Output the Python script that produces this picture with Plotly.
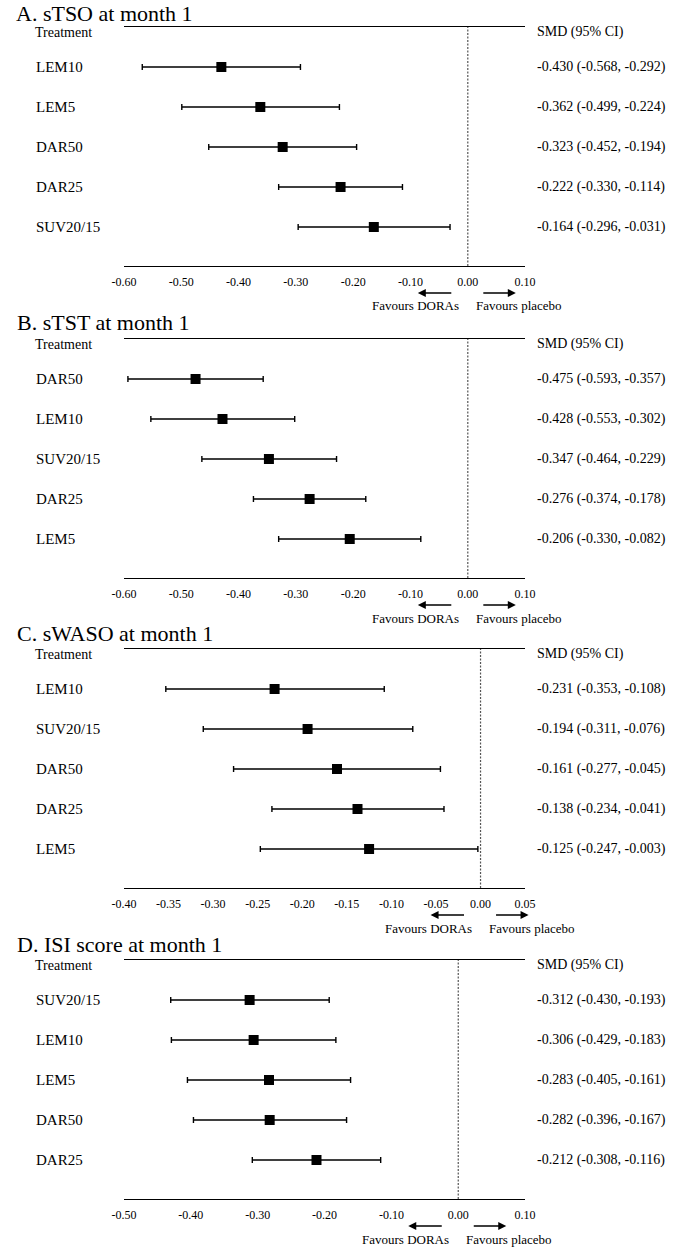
import plotly.graph_objects as go

# Panel titles
titles = ["A. sTSO at month 1", "B. sTST at month 1",
          "C. sWASO at month 1", "D. ISI score at month 1"]

# Treatments per panel (top to bottom)
treat_a = ["LEM10", "LEM5", "DAR50", "DAR25", "SUV20/15"]
treat_b = ["DAR50", "LEM10", "SUV20/15", "DAR25", "LEM5"]
treat_c = ["LEM10", "SUV20/15", "DAR50", "DAR25", "LEM5"]
treat_d = ["SUV20/15", "LEM10", "LEM5", "DAR50", "DAR25"]

# SMD with lower / upper 95% CI
smd_a = [-0.430, -0.362, -0.323, -0.222, -0.164]
lo_a = [-0.568, -0.499, -0.452, -0.330, -0.296]
hi_a = [-0.292, -0.224, -0.194, -0.114, -0.031]

smd_b = [-0.475, -0.428, -0.347, -0.276, -0.206]
lo_b = [-0.593, -0.553, -0.464, -0.374, -0.330]
hi_b = [-0.357, -0.302, -0.229, -0.178, -0.082]

smd_c = [-0.231, -0.194, -0.161, -0.138, -0.125]
lo_c = [-0.353, -0.311, -0.277, -0.234, -0.247]
hi_c = [-0.108, -0.076, -0.045, -0.041, -0.003]

smd_d = [-0.312, -0.306, -0.283, -0.282, -0.212]
lo_d = [-0.430, -0.429, -0.405, -0.396, -0.308]
hi_d = [-0.193, -0.183, -0.161, -0.167, -0.116]

# x axis ticks per panel
ticks_a = [-0.60, -0.50, -0.40, -0.30, -0.20, -0.10, 0.00, 0.10]
ticks_b = [-0.60, -0.50, -0.40, -0.30, -0.20, -0.10, 0.00, 0.10]
ticks_c = [-0.40, -0.35, -0.30, -0.25, -0.20, -0.15, -0.10, -0.05, 0.00, 0.05]
ticks_d = [-0.50, -0.40, -0.30, -0.20, -0.10, 0.00, 0.10]

panels = [
    (treat_a, smd_a, lo_a, hi_a, ticks_a),
    (treat_b, smd_b, lo_b, hi_b, ticks_b),
    (treat_c, smd_c, lo_c, hi_c, ticks_c),
    (treat_d, smd_d, lo_d, hi_d, ticks_d),
]

# page geometry (pixels)
W, H = 675, 1247
panel_tops = [27, 339, 649, 960]
panel_h = 239
x_left, x_right = 115, 531
FONT = "Liberation Serif"

fig = go.Figure()
annotations = []
shapes = []

for i, (treat, smd, lo, hi, ticks) in enumerate(panels):
    n = i + 1
    xa = "x" if n == 1 else f"x{n}"
    ya = "y" if n == 1 else f"y{n}"
    top = panel_tops[i]

    fig.add_trace(go.Scatter(
        x=smd, y=treat, xaxis=xa, yaxis=ya, mode="markers",
        marker=dict(symbol="square", size=10, color="black"),
        error_x=dict(type="data", symmetric=False,
                     array=[h - s for h, s in zip(hi, smd)],
                     arrayminus=[s - l for s, l in zip(smd, lo)],
                     color="black", thickness=1.4, width=3),
        showlegend=False, hoverinfo="skip"))

    fig.layout[f"xaxis{n}"] = dict(
        domain=[x_left / W, x_right / W], anchor=ya,
        range=[ticks[0], ticks[-1]], tickvals=ticks,
        ticktext=[f"{t:.2f}" for t in ticks],
        showgrid=False, zeroline=False, showline=True, mirror=True,
        linecolor="black", linewidth=1.3, ticks="",
        ticklabelstandoff=4, tickfont=dict(size=12, family=FONT, color="black"))
    fig.layout[f"yaxis{n}"] = dict(
        domain=[1 - (top + panel_h) / H, 1 - top / H], anchor=xa,
        type="category", categoryarray=treat, range=[4.975, -1],
        showgrid=False, zeroline=False, showline=False, showticklabels=False)

    # dashed line at zero
    shapes.append(dict(type="line", xref=xa, yref=f"{ya} domain",
                       x0=0, x1=0, y0=0, y1=1,
                       line=dict(color="#555555", width=1.2, dash="2px,1.5px")))

    # panel title (first one pinned to the top edge)
    if n == 1:
        annotations.append(dict(text=titles[i], xref="paper", yref="paper",
                                x=2 / W, y=1, xanchor="left", yanchor="top",
                                showarrow=False, borderpad=0,
                                font=dict(size=22, family=FONT, color="black")))
    else:
        annotations.append(dict(text=titles[i], xref="paper", yref="paper",
                                x=2 / W, y=1 - (top - 16) / H, xanchor="left",
                                yanchor="middle", showarrow=False,
                                font=dict(size=22, family=FONT, color="black")))
    # column headers
    annotations.append(dict(text="Treatment", xref="paper", yref=ya,
                            x=21 / W, y=-0.87, xanchor="left", showarrow=False,
                            font=dict(size=14, family=FONT, color="black")))
    annotations.append(dict(text="SMD (95% CI)", xref="paper", yref=ya,
                            x=541 / W, y=-0.87, xanchor="left", showarrow=False,
                            font=dict(size=14, family=FONT, color="black")))
    # row labels and values
    for t, s, l, h in zip(treat, smd, lo, hi):
        annotations.append(dict(text=t, xref="paper", yref=ya,
                                x=22 / W, y=t, xanchor="left", showarrow=False,
                                font=dict(size=15, family=FONT, color="black")))
        annotations.append(dict(text=f"{s:.3f} ({l:.3f}, {h:.3f})",
                                xref="paper", yref=ya, x=541 / W, y=t,
                                xanchor="left", showarrow=False,
                                font=dict(size=14, family=FONT, color="black")))

    # favours arrows
    annotations.append(dict(text="", xref=xa, yref=f"{ya} domain", x=0, y=0,
                            xshift=-50, yshift=-27, ax=35, ay=0,
                            showarrow=True, arrowhead=2, arrowsize=1,
                            arrowwidth=1.6, arrowcolor="black"))
    annotations.append(dict(text="", xref=xa, yref=f"{ya} domain", x=0, y=0,
                            xshift=48, yshift=-27, ax=-34, ay=0,
                            showarrow=True, arrowhead=2, arrowsize=1,
                            arrowwidth=1.6, arrowcolor="black"))
    annotations.append(dict(text="Favours DORAs", xref=xa, yref=f"{ya} domain",
                            x=0, y=0, xshift=-7, yshift=-40, xanchor="right",
                            yanchor="middle", showarrow=False,
                            font=dict(size=13, family=FONT, color="black")))
    annotations.append(dict(text="Favours placebo", xref=xa, yref=f"{ya} domain",
                            x=0, y=0, xshift=6, yshift=-40, xanchor="left",
                            yanchor="middle", showarrow=False,
                            font=dict(size=13, family=FONT, color="black")))

fig.update_layout(width=W, height=H, margin=dict(l=0, r=0, t=0, b=0),
                  paper_bgcolor="white", plot_bgcolor="white",
                  font=dict(family=FONT, color="black"),
                  annotations=annotations, shapes=shapes, showlegend=False)

# drop the default page margin so the figure fills the window
fig.write_html("out.html", config={"displayModeBar": False},
               post_script="document.body.style.margin='0';"
                           "document.body.style.overflow='hidden';")
